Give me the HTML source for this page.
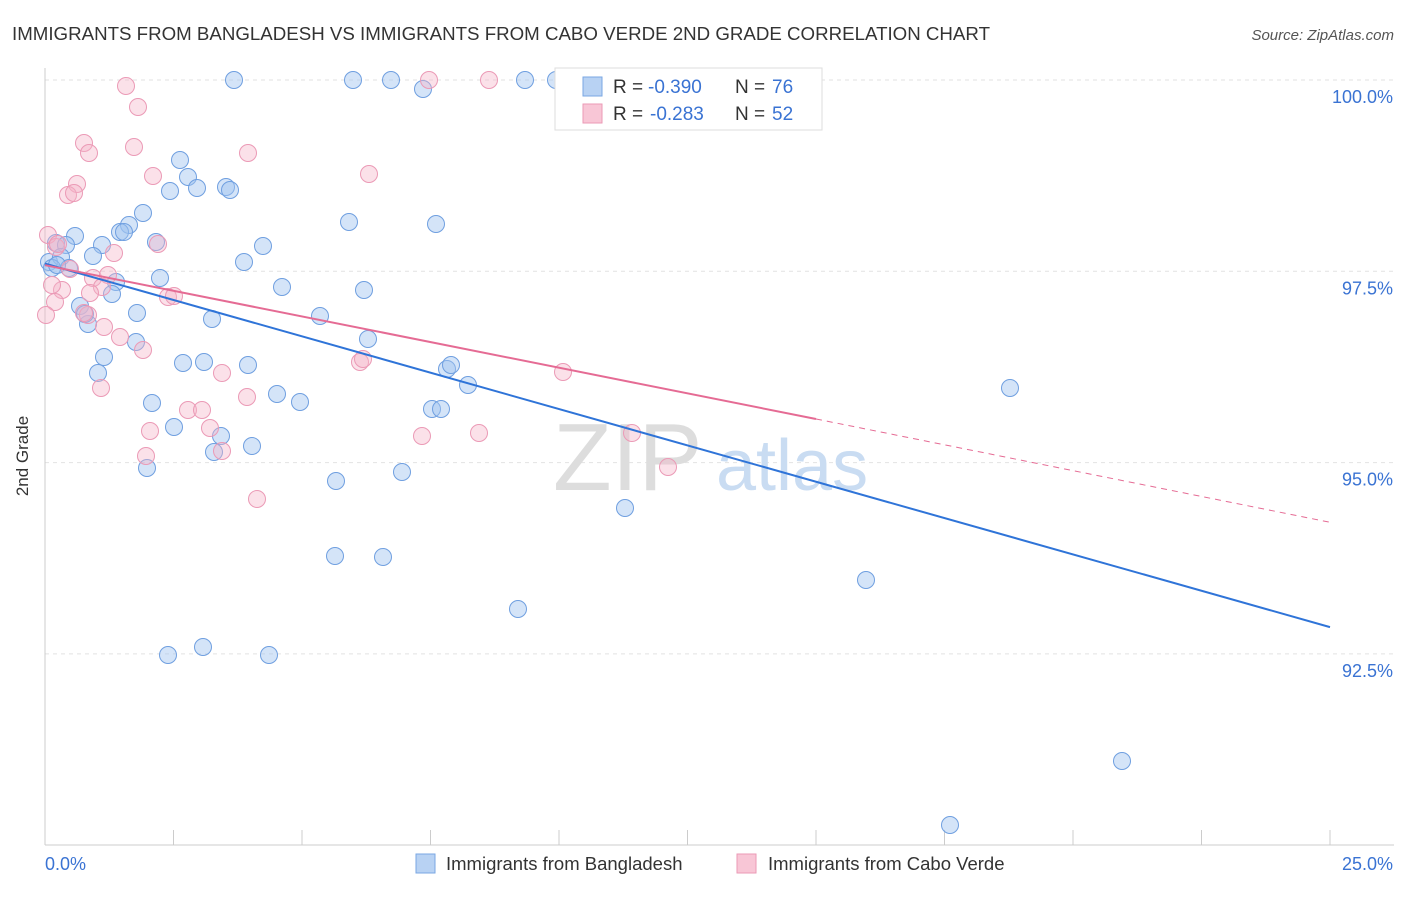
<!DOCTYPE html>
<html><head><meta charset="utf-8"><style>
body{margin:0;background:#fff;font-family:"Liberation Sans",sans-serif;}
svg text{font-family:"Liberation Sans",sans-serif;}
</style></head><body>
<svg width="1406" height="892" xmlns="http://www.w3.org/2000/svg">
<text x="12" y="40" font-size="18" fill="#333" textLength="978" lengthAdjust="spacingAndGlyphs">IMMIGRANTS FROM BANGLADESH VS IMMIGRANTS FROM CABO VERDE 2ND GRADE CORRELATION CHART</text>
<text x="1394" y="40" font-size="15" fill="#555" font-style="italic" text-anchor="end">Source: ZipAtlas.com</text>
<g id="grid"></g>
<text x="553" y="490" font-size="96" fill="#ddd" font-family="Liberation Serif">ZIP</text>
<text x="716" y="490" font-size="72" fill="#c9dcf2">atlas</text>
<g id="axes"></g>
<g id="pts"></g>
<g id="lines"></g>
<text x="28" y="456" font-size="17" fill="#333" transform="rotate(-90 28 456)" text-anchor="middle">2nd Grade</text>
<g>
<rect x="555" y="68" width="267" height="62" fill="#fff" stroke="#ddd"/>
<rect x="583" y="77" width="19" height="19" fill="#b8d2f3" stroke="#7aa7e3"/>
<rect x="583" y="104" width="19" height="19" fill="#f8c6d6" stroke="#eb9ab6"/>
<text x="613" y="93" font-size="19" fill="#333">R =</text>
<text x="648" y="93" font-size="19" fill="#3a73d3">-0.390</text>
<text x="735" y="93" font-size="19" fill="#333">N =</text>
<text x="772" y="93" font-size="19" fill="#3a73d3">76</text>
<text x="613" y="120" font-size="19" fill="#333">R =</text>
<text x="650" y="120" font-size="19" fill="#3a73d3">-0.283</text>
<text x="735" y="120" font-size="19" fill="#333">N =</text>
<text x="772" y="120" font-size="19" fill="#3a73d3">52</text>
</g>
<g>
<rect x="416" y="854" width="19" height="19" fill="#b8d2f3" stroke="#7aa7e3"/>
<text x="446" y="870" font-size="18.5" fill="#333">Immigrants from Bangladesh</text>
<rect x="737" y="854" width="19" height="19" fill="#f8c6d6" stroke="#eb9ab6"/>
<text x="768" y="870" font-size="18.5" fill="#333">Immigrants from Cabo Verde</text>
</g>
</svg>
<script>
const blueX=[234,353,391,525,556,423,180,188,197,170,226,230,143,129,349,436,120,124,75,56,66,102,156,263,93,49,61,52,69,244,160,116,282,364,112,80,137,320,212,88,368,136,104,183,204,248,98,447,451,468,277,300,152,432,441,174,221,214,252,147,402,336,625,1010,335,383,518,866,168,203,269,1122,950,85,57];
const blueY=[80,80,80,80,80,89,160,177,188,191,187,190,213,225,222,224,232,232,236,243,245,245,242,246,256,262,257,268,268,262,278,282,287,290,294,306,313,316,319,324,339,342,357,363,362,365,373,369,365,385,394,402,403,409,409,427,436,452,446,468,472,481,508,388,556,557,609,580,655,647,655,761,825,314,265];
const pinkX=[126,138,84,89,134,248,153,369,77,68,74,48,158,114,56,70,93,108,102,62,90,52,168,174,55,46,88,104,120,143,360,363,563,222,101,247,188,202,210,150,422,479,632,222,146,668,257,429,489,590,58,84];
const pinkY=[86,107,143,153,147,153,176,174,184,195,193,235,244,253,247,269,278,275,287,290,293,285,297,296,302,315,315,327,337,350,362,359,372,373,388,397,410,410,428,431,436,433,433,451,456,467,499,80,80,104,244,313];
const xs=p=>(p-45)/1285*25, ys=p=>100-(p-80)/191.3*2.5;
const blueXv=blueX.map(xs), blueYv=blueY.map(ys), pinkXv=pinkX.map(xs), pinkYv=pinkY.map(ys);
const xTicks=["0.0%","25.0%"];
const yTicks=[100,97.5,95,92.5];
const blueTrend=[97.6,92.85]; const pinkTrend=[97.58,95.57,94.22];
const X=v=>45+v/25*1285, Y=v=>80+(100-v)/2.5*191.3;
const NS="http://www.w3.org/2000/svg";
function mk(t,a,p){const e=document.createElementNS(NS,t);for(const k in a)e.setAttribute(k,a[k]);document.getElementById(p).appendChild(e);return e;}
yTicks.forEach(v=>{const l=mk('line',{x1:45,x2:1394,y1:Y(v),y2:Y(v),stroke:'#e2e2e2','stroke-dasharray':'4,4'},'grid');


const t=mk('text',{x:1393,y:Y(v)+23,'font-size':18,fill:'#3a73d3','text-anchor':'end'},'grid');t.textContent=v.toFixed(1)+'%';

});
const ax=mk('line',{x1:45,x2:45,y1:68,y2:845,stroke:'#ccc'},'axes');


const bx=mk('line',{x1:45,x2:1394,y1:845,y2:845,stroke:'#ccc'},'axes');


for(let i=0;i<=10;i++){const t=mk('line',{x1:X(i*2.5),x2:X(i*2.5),y1:830,y2:845,stroke:'#ccc'},'axes');

}
xTicks.forEach((s,i)=>{const t=mk('text',{x:i?1393:45,y:870,'font-size':18,fill:'#3a73d3','text-anchor':i?'end':'start'},'axes');t.textContent=s;

});
blueXv.forEach((v,i)=>{const c=mk('circle',{cx:X(v),cy:Y(blueYv[i]),r:8.5,fill:'rgba(160,195,240,0.45)',stroke:'#6f9fe0','stroke-width':1},'pts');

});
pinkXv.forEach((v,i)=>{const c=mk('circle',{cx:X(v),cy:Y(pinkYv[i]),r:8.5,fill:'rgba(245,180,200,0.4)',stroke:'#eb9ab6','stroke-width':1},'pts');

});
const bl=mk('line',{x1:X(0),y1:Y(blueTrend[0]),x2:X(25),y2:Y(blueTrend[1]),stroke:'#2f74d8','stroke-width':2},'lines');


const pl=mk('line',{x1:X(0),y1:Y(pinkTrend[0]),x2:X(15),y2:Y(pinkTrend[1]),stroke:'#e56b94','stroke-width':2},'lines');


const pd=mk('line',{x1:X(15),y1:Y(pinkTrend[1]),x2:X(25),y2:Y(pinkTrend[2]),stroke:'#e56b94','stroke-width':1,'stroke-dasharray':'6,5'},'lines');


</script>
</body></html>
